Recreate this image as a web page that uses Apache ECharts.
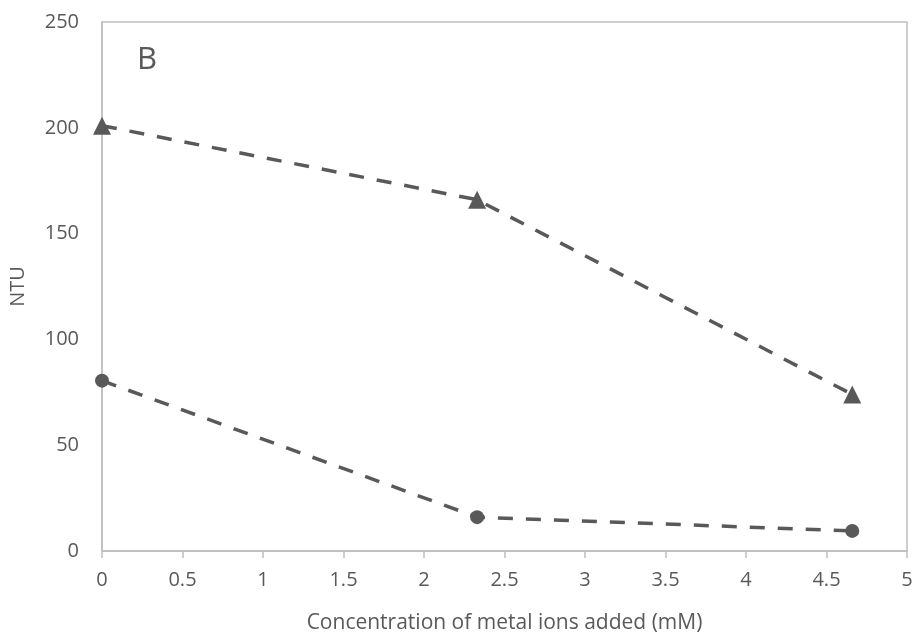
<!DOCTYPE html>
<html><head><meta charset="utf-8">
<script src="https://cdn.jsdelivr.net/npm/echarts@6/dist/echarts.min.js"></script>
<style>html,body{margin:0;padding:0;background:#fff}#c{width:914px;height:636px}</style>
</head><body><div id="c"></div>
<script>
const xValues = [0, 2.33, 4.66];
const seriesTriangle = [201, 166, 74];
const seriesCircle = [80.5, 16, 9.5];
const xTicks = [0, 0.5, 1, 1.5, 2, 2.5, 3, 3.5, 4, 4.5, 5];
const yTicks = [0, 50, 100, 150, 200, 250];
const panelLabel = 'B';
const xTitle = 'Concentration of metal ions added (mM)';
const yTitle = 'NTU';

const font = '"Open Sans", "Liberation Sans", sans-serif';
const grey = '#595959';
const chart = echarts.init(document.getElementById('c'), null, {renderer: 'canvas'});
const mk = (vals) => xValues.map((x, i) => [x, vals[i]]);
chart.setOption({
  animation: false,
  textStyle: {fontFamily: font},
  grid: {left: 102, top: 22, right: 7, bottom: 85, show: true, borderColor: '#bfbfbf', borderWidth: 1.5,
         containLabel: false, outerBoundsMode: 'none'},
  title: {text: panelLabel, left: 132, top: 40, textStyle: {fontSize: 31, fontWeight: 'normal', color: grey, fontFamily: font}},
  xAxis: {
    type: 'value', min: 0, max: 5, interval: 0.5,
    name: xTitle, nameLocation: 'middle', nameGap: 62,
    nameTextStyle: {fontSize: 21, color: grey, fontFamily: font},
    axisLine: {show: true, lineStyle: {color: '#bfbfbf', width: 1.5}},
    axisTick: {show: true, length: 7, lineStyle: {color: '#bfbfbf', width: 1.5}},
    axisLabel: {fontSize: 20, color: grey, margin: 19, fontFamily: font,
      formatter: v => String(+v.toFixed(1))},
    splitLine: {show: false}
  },
  yAxis: {
    type: 'value', min: 0, max: 250, interval: 50,
    name: yTitle, nameLocation: 'middle', nameGap: 74, nameRotate: 90,
    nameTextStyle: {fontSize: 20, color: grey, fontFamily: font},
    axisLine: {show: true, lineStyle: {color: '#bfbfbf', width: 1.5}},
    axisTick: {show: false},
    axisLabel: {fontSize: 20, color: grey, margin: 23, fontFamily: font},
    splitLine: {show: false}
  },
  series: [
    {type: 'line', data: mk(seriesTriangle), symbol: 'triangle', symbolSize: 18,
     itemStyle: {color: grey}, lineStyle: {color: grey, width: 3.5, type: [15, 13]}},
    {type: 'line', data: mk(seriesCircle), symbol: 'circle', symbolSize: 14,
     itemStyle: {color: grey}, lineStyle: {color: grey, width: 3.5, type: [15, 13]}}
  ]
});
</script></body></html>
